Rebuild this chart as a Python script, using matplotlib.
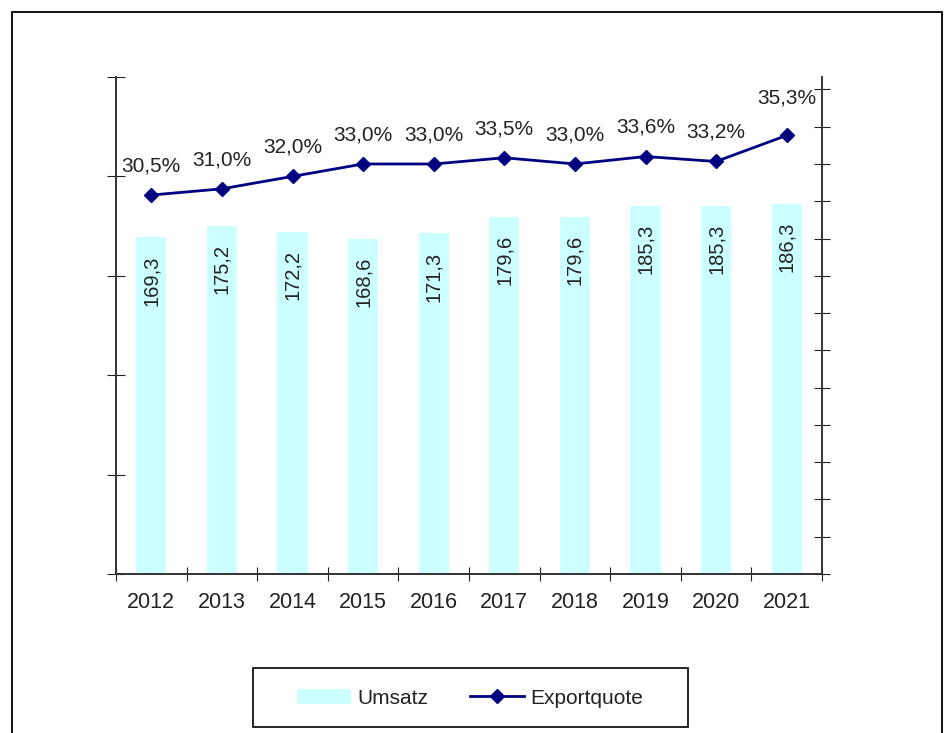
import matplotlib.pyplot as plt
from matplotlib.patches import Rectangle

plt.rcParams['font.family'] = ['Liberation Sans', 'DejaVu Sans']

years = ['2012', '2013', '2014', '2015', '2016', '2017', '2018', '2019', '2020', '2021']
umsatz = [169.3, 175.2, 172.2, 168.6, 171.3, 179.6, 179.6, 185.3, 185.3, 186.3]
exportquote = [30.5, 31.0, 32.0, 33.0, 33.0, 33.5, 33.0, 33.6, 33.2, 35.3]

def de(v, nd=1):
    return f"{v:.{nd}f}".replace('.', ',')

fig = plt.figure(figsize=(9.5, 7.33), dpi=100)
W, H = 950, 733
ax = fig.add_axes([116 / W, 1 - 574 / H, (822 - 116) / W, (574 - 77) / H])
ax2 = ax.twinx()

x = list(range(len(years)))
txt = '#222222'

bars = ax.bar(x, umsatz, width=0.43, color='#CCFFFF', zorder=1, label='Umsatz')
for xi, v in zip(x, umsatz):
    ax.annotate(de(v), (xi, v), xytext=(0, -13), textcoords='offset points',
                rotation=90, ha='center', va='top', fontsize=14.5, color=txt)
ax.set_ylim(0, 250)
ax.set_yticks(range(0, 251, 50))
ax.set_yticklabels([])
ax.set_xlim(-0.5, len(years) - 0.5)
ax.set_xticks([i - 0.5 for i in range(len(years) + 1)])
ax.set_xticklabels([])
ax.set_xticks(x, minor=True)
ax.set_xticklabels(years, minor=True, fontsize=15.5, color=txt)
ax.tick_params(axis='x', which='minor', length=0, pad=13)
ax.tick_params(axis='x', which='major', direction='inout', length=10, color='#222222')
ax.tick_params(axis='y', direction='inout', length=13, color='#222222')

line, = ax2.plot(x, exportquote, color='#000080', lw=2, marker='D', markersize=7,
                 label='Exportquote', zorder=3)
for xi, v in zip(x, exportquote):
    off = 21 if v < 35 else 27
    ax2.annotate(de(v) + '%', (xi, v), xytext=(0, off), textcoords='offset points',
                 ha='center', va='center', fontsize=15, color=txt)
ax2.set_ylim(0, 40)
ax2.set_yticks(range(0, 40, 3))
ax2.set_yticklabels([])
ax2.tick_params(axis='y', direction='inout', length=12, color='#222222')

for a in (ax, ax2):
    a.spines['top'].set_visible(False)
    for s in ('left', 'right', 'bottom'):
        a.spines[s].set_color('#333333')
        a.spines[s].set_linewidth(1.2)

# outer chart frame
fig.add_artist(Rectangle((12 / W, -0.05), 930 / W, 1 - 12 / H + 0.05,
                         transform=fig.transFigure, fill=False, ec='black', lw=1.3))
# legend box
fig.add_artist(Rectangle((253 / W, 1 - 727 / H), 435 / W, 59 / H,
                         transform=fig.transFigure, fill=False, ec='black', lw=1.2))
fig.legend([bars, line], ['Umsatz', 'Exportquote'], loc='center', ncol=2,
           bbox_to_anchor=(470 / W, 1 - 698 / H), frameon=False, fontsize=15,
           handlelength=2.6, columnspacing=2.0, handletextpad=0.3,
           labelcolor=txt)

fig.savefig('out.png', dpi=100)
